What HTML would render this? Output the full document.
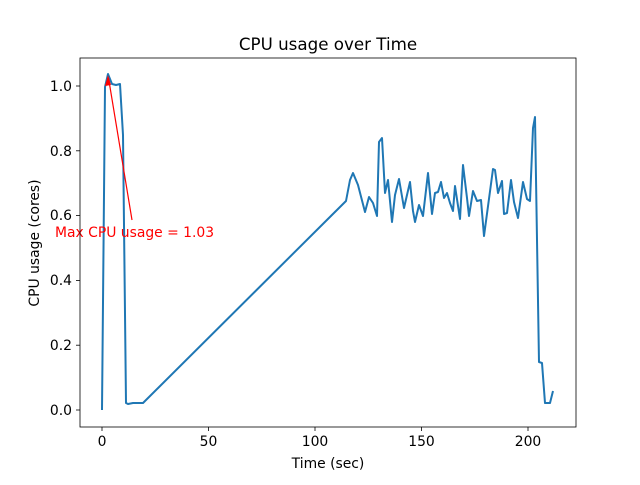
<!DOCTYPE html>
<html><head><style>body{margin:0;background:#fff}svg text{font-family:"DejaVu Sans","Liberation Sans",sans-serif}</style></head><body>
<svg width="640" height="480" xmlns="http://www.w3.org/2000/svg">
<rect width="640" height="480" fill="#fff"/>
<g stroke="#000" stroke-width="0.8">
<line x1="102" y1="427" x2="102" y2="431"/><line x1="208.5" y1="427" x2="208.5" y2="431"/><line x1="315" y1="427" x2="315" y2="431"/><line x1="421.5" y1="427" x2="421.5" y2="431"/><line x1="528" y1="427" x2="528" y2="431"/>
<line x1="76" y1="410" x2="80" y2="410"/><line x1="76" y1="345.2" x2="80" y2="345.2"/><line x1="76" y1="280.4" x2="80" y2="280.4"/><line x1="76" y1="215.6" x2="80" y2="215.6"/><line x1="76" y1="150.8" x2="80" y2="150.8"/><line x1="76" y1="86" x2="80" y2="86"/>
</g>
<g font-size="13.9" fill="#000" text-anchor="middle">
<text x="102" y="446">0</text><text x="208.5" y="446">50</text><text x="315" y="446">100</text><text x="421.5" y="446">150</text><text x="528" y="446">200</text>
</g>
<g font-size="13.9" fill="#000" text-anchor="end">
<text x="72" y="415">0.0</text><text x="72" y="350">0.2</text><text x="72" y="285">0.4</text><text x="72" y="220">0.6</text><text x="72" y="156">0.8</text><text x="72" y="91">1.0</text>
</g>
<text x="328" y="468" font-size="13.9" text-anchor="middle">Time (sec)</text>
<text x="39" y="243" font-size="13.9" text-anchor="middle" transform="rotate(-90 39 243)">CPU usage (cores)</text>
<text x="328" y="50" font-size="16.7" text-anchor="middle">CPU usage over Time</text>
<polyline fill="none" stroke="#1f77b4" stroke-width="2" stroke-linejoin="round" points="102,410 105,87 108,74 112,84 116,85 120,84 123,135 126,403 128,404 133,403 138,403 143,403 346,201 350,180 353,173 358,185 365,212 369,197 373,203 377,216 379,142 382,138 385,193 388,180 392,222 395,195 399,179 404,208 410,182 413,211 415,222 419,205 423,216 428,173 432,214 435,193 438,192 441,182 444,198 447,193 450,203 453,211 455,186 460,219 463,165 467,198 469,216 473,191 477,201 481,200 484,236 493,169 495,170 498,193 502,181 504,214 507,213 511,180 514,202 518,218 523,182 527,199 530,201 533,128 535,117 539,362 542,363 545,403 550,403 553,391"/>
<line x1="132" y1="220" x2="108.5" y2="78" stroke="red" stroke-width="1.2"/>
<polygon points="108,75 105,86 111,85" fill="red"/>
<text x="55" y="237" font-size="13.9" fill="red">Max CPU usage = 1.03</text>
<rect x="80" y="58" width="496" height="369" fill="none" stroke="#000" stroke-width="0.8"/>
</svg>
</body></html>
